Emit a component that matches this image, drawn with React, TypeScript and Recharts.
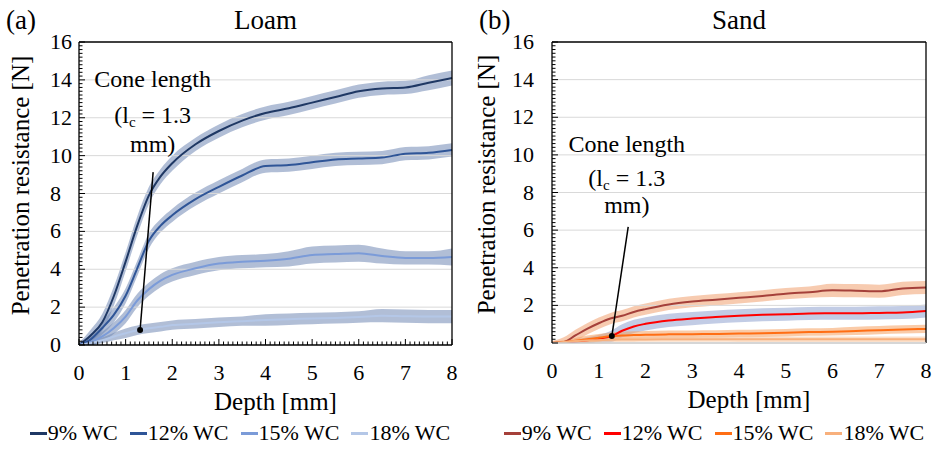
import {
  ComposedChart,
  Line,
  Area,
  XAxis,
  YAxis,
  ReferenceLine,
  ReferenceDot,
  Legend,
} from "recharts";

const FONT = "Liberation Serif";
const serif = { fontFamily: FONT } as const;

const depth = [0, 0.25, 0.5, 0.75, 1, 1.25, 1.5, 1.75, 2, 2.5, 3, 3.5, 4, 4.5, 5, 5.5, 6, 6.5, 7, 7.5, 8];

const seriesNames = ["9% WC", "12% WC", "15% WC", "18% WC"];
const gridValues = [2, 4, 6, 8, 10, 12, 14];

// Loam, mean penetration resistance [N] and band half width
const loam9 = [0, 0.5, 1.2, 2.6, 4.4, 6.3, 7.9, 8.9, 9.6, 10.6, 11.3, 11.85, 12.25, 12.5, 12.8, 13.1, 13.4, 13.55, 13.6, 13.85, 14.1];
const loam9sd = [0.1, 0.3, 0.45, 0.5, 0.5, 0.5, 0.45, 0.4, 0.4, 0.35, 0.35, 0.35, 0.35, 0.35, 0.35, 0.35, 0.35, 0.35, 0.35, 0.4, 0.4];
const loam12 = [0, 0.3, 0.9, 1.6, 2.6, 4.05, 5.5, 6.3, 6.85, 7.7, 8.35, 8.95, 9.45, 9.5, 9.65, 9.8, 9.85, 9.9, 10.1, 10.15, 10.3];
const loam12sd = [0.1, 0.25, 0.35, 0.4, 0.4, 0.4, 0.4, 0.35, 0.35, 0.35, 0.35, 0.35, 0.35, 0.35, 0.35, 0.35, 0.35, 0.35, 0.35, 0.35, 0.35];
const loam15 = [0, 0.15, 0.45, 0.9, 1.5, 2.35, 2.95, 3.4, 3.7, 4.05, 4.3, 4.4, 4.45, 4.55, 4.75, 4.8, 4.85, 4.7, 4.6, 4.6, 4.65];
const loam15sd = [0.05, 0.15, 0.25, 0.3, 0.35, 0.35, 0.35, 0.35, 0.35, 0.35, 0.35, 0.35, 0.35, 0.4, 0.45, 0.45, 0.45, 0.4, 0.35, 0.35, 0.45];
const loam18 = [0, 0.1, 0.25, 0.45, 0.62, 0.78, 0.88, 0.96, 1.05, 1.12, 1.2, 1.26, 1.32, 1.36, 1.4, 1.43, 1.48, 1.55, 1.52, 1.5, 1.5];
const loam18sd = [0.05, 0.1, 0.15, 0.2, 0.25, 0.25, 0.25, 0.25, 0.25, 0.25, 0.25, 0.25, 0.3, 0.3, 0.3, 0.3, 0.3, 0.35, 0.35, 0.35, 0.35];

// Sand
const sand9 = [0, 0.05, 0.4, 0.75, 1.05, 1.3, 1.45, 1.65, 1.8, 2.05, 2.2, 2.3, 2.4, 2.5, 2.62, 2.7, 2.8, 2.78, 2.75, 2.9, 2.95];
const sand9sd = [0.1, 0.25, 0.3, 0.3, 0.3, 0.3, 0.3, 0.3, 0.3, 0.3, 0.3, 0.3, 0.3, 0.3, 0.3, 0.3, 0.35, 0.35, 0.35, 0.35, 0.35];
const sand12 = [0, 0.03, 0.08, 0.15, 0.24, 0.34, 0.65, 0.88, 1.02, 1.2, 1.3, 1.38, 1.45, 1.5, 1.53, 1.57, 1.58, 1.58, 1.6, 1.62, 1.7];
const sand12sd = [0.02, 0.05, 0.1, 0.15, 0.2, 0.3, 0.35, 0.35, 0.35, 0.35, 0.35, 0.35, 0.35, 0.35, 0.35, 0.35, 0.35, 0.35, 0.35, 0.35, 0.35];
const sand15 = [0, 0.05, 0.12, 0.2, 0.28, 0.36, 0.4, 0.42, 0.44, 0.46, 0.47, 0.48, 0.5, 0.52, 0.55, 0.58, 0.6, 0.64, 0.68, 0.72, 0.75];
const sand15sd = [0.05, 0.1, 0.15, 0.2, 0.2, 0.2, 0.2, 0.2, 0.2, 0.2, 0.2, 0.2, 0.2, 0.2, 0.2, 0.2, 0.2, 0.22, 0.22, 0.22, 0.22];
const sand18 = [0, 0.05, 0.1, 0.13, 0.15, 0.17, 0.18, 0.18, 0.19, 0.2, 0.2, 0.2, 0.2, 0.2, 0.2, 0.2, 0.2, 0.2, 0.2, 0.2, 0.2];
const sand18sd = [0.05, 0.08, 0.1, 0.12, 0.12, 0.12, 0.13, 0.13, 0.13, 0.14, 0.14, 0.14, 0.15, 0.15, 0.15, 0.15, 0.15, 0.15, 0.15, 0.15, 0.15];

type Series = { name: string; mean: number[]; sd: number[]; line: string; band: string };

const loamSeries: Series[] = [
  { name: seriesNames[0], mean: loam9, sd: loam9sd, line: "#1f3864", band: "#7189b5" },
  { name: seriesNames[1], mean: loam12, sd: loam12sd, line: "#2f5597", band: "#7189b5" },
  { name: seriesNames[2], mean: loam15, sd: loam15sd, line: "#7b9bd8", band: "#7189b5" },
  { name: seriesNames[3], mean: loam18, sd: loam18sd, line: "#b4c7e7", band: "#7189b5" },
];

const sandSeries: Series[] = [
  { name: seriesNames[0], mean: sand9, sd: sand9sd, line: "#a5403a", band: "#f0a070" },
  { name: seriesNames[1], mean: sand12, sd: sand12sd, line: "#ff0000", band: "#8fa3d0" },
  { name: seriesNames[2], mean: sand15, sd: sand15sd, line: "#ff6e14", band: "#f5a060" },
  { name: seriesNames[3], mean: sand18, sd: sand18sd, line: "#f8b07c", band: "#f8c49c" },
];

// minor tick positions: every 0.1 mm on x, every 0.2 N on y
const xMinor: number[] = [];
for (let i = 0; i <= 80; i++) xMinor.push(i / 10);
const yMinor: number[] = [];
for (let i = 0; i <= 80; i++) yMinor.push(i / 5);

function buildRows(series: Series[]) {
  return depth.map((d, i) => {
    const row: Record<string, unknown> = { depth: d };
    series.forEach((s, k) => {
      row[`m${k}`] = s.mean[i];
      row[`b${k}`] = [Math.max(0, s.mean[i] - s.sd[i]), s.mean[i] + s.sd[i]];
    });
    return row;
  });
}

type PanelProps = {
  tag: string;
  title: string;
  series: Series[];
  yAxisWidth: number;
  right: number;
  xAxisHeight: number;
  xTicksInside: boolean;
  bottomAxisColor: string;
  yLabelAlign: "start" | "end";
  yLabelGap: number;
  legendShift: number;
  note: { x: number; y: number; gaps: [number, number] };
  pointer: { x1: number; y1: number; x2: number; y2: number };
};

function ConeNote({ cx, cy, gaps }: { cx: number; cy: number; gaps: [number, number] }) {
  return (
    <text textAnchor="middle" fontFamily={FONT} style={serif} fontSize={24} fill="#000">
      <tspan x={cx} y={cy}>Cone length</tspan>
      <tspan x={cx} y={cy + gaps[0]}>
        (l<tspan fontSize={15} dy={4}>c</tspan>
        <tspan dy={-4}> = 1.3</tspan>
      </tspan>
      <tspan x={cx} y={cy + gaps[1]}>mm)</tspan>
    </text>
  );
}

function Panel(p: PanelProps) {
  const rows = buildRows(p.series);

  const xTick = (t: any) => {
    const v = t.payload.value as number;
    const major = Math.abs(v - Math.round(v)) < 1e-6;
    return (
      <g>
        {p.xTicksInside && (
          <line x1={t.x} x2={t.x} y1={t.y} y2={t.y - (major ? 6 : 3.5)} stroke="#000" strokeWidth={1} />
        )}
        {major && (
          <text x={t.x} y={t.y + 35} textAnchor="middle" fontFamily={FONT} style={serif} fontSize={22} fill="#000">
            {Math.round(v)}
          </text>
        )}
      </g>
    );
  };

  const yTick = (t: any) => {
    const v = t.payload.value as number;
    const major = Math.abs(v / 2 - Math.round(v / 2)) < 1e-6;
    return (
      <g>
        <line x1={t.x} x2={t.x + (major ? 6 : 3.5)} y1={t.y} y2={t.y} stroke="#000" strokeWidth={1} />
        {major && (
          <text
            x={t.x - p.yLabelGap}
            y={t.y + 7}
            textAnchor={p.yLabelAlign}
            fontFamily={FONT}
            style={serif}
            fontSize={22}
            fill="#000"
          >
            {Math.round(v)}
          </text>
        )}
      </g>
    );
  };

  const yLabel = (props: any) => {
    const vb = props.viewBox ?? props;
    const cx = vb.x + 20;
    const cy = vb.y + vb.height / 2 - 8;
    return (
      <text
        x={cx}
        y={cy}
        transform={`rotate(-90 ${cx} ${cy})`}
        textAnchor="middle"
        dominantBaseline="central"
        fontFamily={FONT}
        style={serif}
        fontSize={25}
        fill="#000"
      >
        Penetration resistance [N]
      </text>
    );
  };

  const xLabel = (props: any) => {
    const vb = props.viewBox ?? props;
    return (
      <text
        x={vb.x + vb.width / 2 + 10}
        y={vb.y + 65}
        textAnchor="middle"
        fontFamily={FONT}
        style={serif}
        fontSize={25}
        fill="#000"
      >
        Depth [mm]
      </text>
    );
  };

  const noteLabel = (props: any) => {
    const vb = props.viewBox ?? props;
    return <ConeNote cx={vb.x + vb.width / 2} cy={vb.y + vb.height / 2} gaps={p.note.gaps} />;
  };

  const legend = () => (
    <div
      style={{
        display: "flex",
        justifyContent: "center",
        alignItems: "center",
        height: 30,
        width: 466,
        transform: `translateX(${p.legendShift}px)`,
        fontFamily: FONT,
        fontSize: 22,
        color: "#000",
        whiteSpace: "nowrap",
      }}
    >
      {p.series.map((s) => (
        <span key={s.name} style={{ display: "inline-flex", alignItems: "center", margin: "0 6px", fontFamily: FONT }}>
          <span style={{ display: "inline-block", width: 17, height: 3, background: s.line, marginRight: 1 }} />
          {s.name}
        </span>
      ))}
    </div>
  );

  return (
    <div style={{ position: "relative", width: 466, height: 455, fontFamily: FONT }}>
      <ComposedChart
        width={466}
        height={455}
        data={rows}
        margin={{ top: 42, right: p.right, bottom: 7, left: 0 }}
        style={serif}
      >
        {gridValues.map((v) => (
          <ReferenceLine key={v} y={v} stroke="#d9d9d9" strokeWidth={1} />
        ))}
        <XAxis
          type="number"
          dataKey="depth"
          domain={[0, 8]}
          ticks={xMinor}
          interval={0}
          tickLine={false}
          tickSize={0}
          tickMargin={0}
          height={p.xAxisHeight}
          axisLine={{ stroke: p.bottomAxisColor, strokeWidth: 1.3 }}
          tick={xTick}
          label={xLabel}
        />
        <YAxis
          type="number"
          domain={[0, 16]}
          ticks={yMinor}
          interval={0}
          width={p.yAxisWidth}
          tickLine={false}
          tickSize={0}
          tickMargin={0}
          allowDataOverflow
          axisLine={{ stroke: "#000", strokeWidth: 1.3 }}
          tick={yTick}
          label={yLabel}
        />
        {p.series.map((s, k) => (
          <Area
            key={`b${k}`}
            dataKey={`b${k}`}
            type="monotone"
            stroke="none"
            fill={s.band}
            fillOpacity={0.55}
            isAnimationActive={false}
            legendType="none"
          />
        ))}
        {p.series.map((s, k) => (
          <Line
            key={`m${k}`}
            dataKey={`m${k}`}
            name={s.name}
            type="monotone"
            stroke={s.line}
            strokeWidth={2}
            dot={false}
            isAnimationActive={false}
          />
        ))}
        <ReferenceLine y={16} stroke="#000" strokeWidth={1.3} />
        <ReferenceLine x={8} stroke="#000" strokeWidth={1.3} />
        <ReferenceLine
          segment={[
            { x: p.pointer.x1, y: p.pointer.y1 },
            { x: p.pointer.x2, y: p.pointer.y2 },
          ]}
          stroke="#000"
          strokeWidth={1.5}
        />
        <ReferenceDot x={p.pointer.x2} y={p.pointer.y2} r={3} fill="#000" stroke="none" />
        <ReferenceDot x={p.note.x} y={p.note.y} r={1} fill="none" stroke="none" label={noteLabel} />
        <Legend verticalAlign="bottom" content={legend} wrapperStyle={{ left: 0, width: 466 }} />
      </ComposedChart>
      <svg width={466} height={60} style={{ position: "absolute", left: 0, top: 0, pointerEvents: "none" }}>
        <text x={p.tag === "(a)" ? 6 : 13} y={29} fontFamily={FONT} style={serif} fontSize={27} fill="#000">
          {p.tag}
        </text>
        <text
          x={p.yAxisWidth + (466 - p.yAxisWidth - p.right) / 2}
          y={29}
          textAnchor="middle"
          fontFamily={FONT}
          style={serif}
          fontSize={27}
          fill="#000"
        >
          {p.title}
        </text>
      </svg>
    </div>
  );
}

export default function App() {
  return (
    <div style={{ display: "flex", width: 932, height: 455, background: "#fff", fontFamily: FONT }}>
      <style>{"body{margin:0}"}</style>
      <Panel
        tag="(a)"
        title="Loam"
        series={loamSeries}
        yAxisWidth={79}
        right={14}
        xAxisHeight={73}
        xTicksInside
        bottomAxisColor="#000"
        yLabelAlign="start"
        yLabelGap={29}
        legendShift={7}
        note={{ x: 1.58, y: 13.62, gaps: [36, 65] }}
        pointer={{ x1: 1.59, y1: 9.13, x2: 1.31, y2: 0.79 }}
      />
      <Panel
        tag="(b)"
        title="Sand"
        series={sandSeries}
        yAxisWidth={86}
        right={6}
        xAxisHeight={75}
        xTicksInside={false}
        bottomAxisColor="#c8c8c8"
        yLabelAlign="end"
        yLabelGap={18}
        legendShift={15}
        note={{ x: 1.6, y: 10.16, gaps: [34, 61] }}
        pointer={{ x1: 1.63, y1: 6.17, x2: 1.28, y2: 0.37 }}
      />
    </div>
  );
}
